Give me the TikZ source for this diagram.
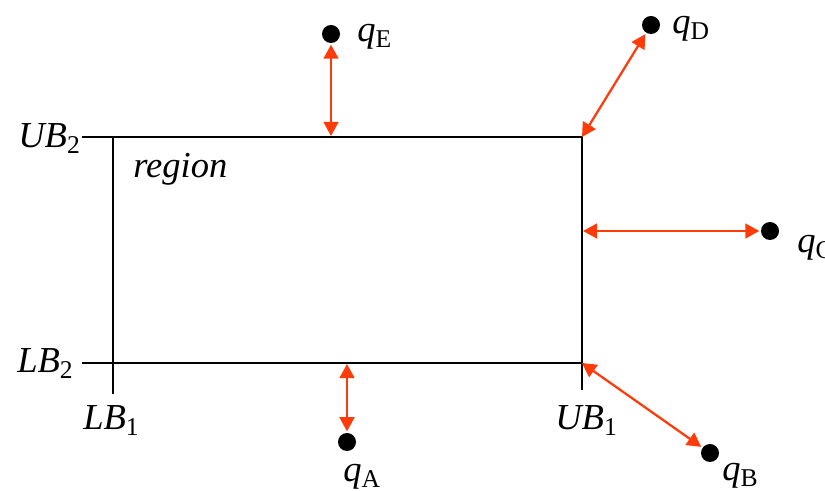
\documentclass[tikz,border=0pt]{standalone}
\usepackage{fontspec}
\setmainfont{Liberation Serif}
\usepackage{xcolor}
\usetikzlibrary{arrows.meta}
\definecolor{arrowred}{HTML}{FF3B0A}

\begin{document}
\begin{tikzpicture}[
x=0.025cm, y=-0.025cm,
every node/.style={font=\fontsize{26}{30}\selectfont, inner sep=0pt},
dotnode/.style={circle, fill=black, minimum size=0.45cm, outer sep=1.2pt},
labelnode/.style={anchor=base west},
boxline/.style={line width=1.6pt, black},
tickline/.style={line width=1.9pt, black},
arrownode/.style={{Triangle[length=10pt,width=10.5pt]}-{Triangle[length=10pt,width=10.5pt]}, line width=1.6pt, arrowred}
]
\useasboundingbox (0,0) rectangle (825,491);

% region box and its bounds
\coordinate (tl) at (113,137);
\coordinate (tr) at (582,137);
\coordinate (bl) at (113,363);
\coordinate (br) at (582,363);
\draw[boxline] (tl) rectangle (br);
\draw[tickline] (82,137) -- (tl);
\draw[tickline] (82,363) -- (bl);
\draw[tickline] (bl) -- (113,394);
\draw[tickline] (br) -- (582,390);

\node[labelnode] (ub2) at (18,148) {\textit{UB}\textsubscript{2}};
\node[labelnode] (lb2) at (17,373) {\textit{LB}\textsubscript{2}};
\node[labelnode] (lb1) at (83,430) {\textit{LB}\textsubscript{1}};
\node[labelnode] (ub1) at (555,430) {\textit{UB}\textsubscript{1}};
\node[labelnode] (region) at (133,178) {\textit{region}};

% query points
\node[dotnode] (qa) at (347,442) {};
\node[dotnode] (qb) at (710,453) {};
\node[dotnode] (qc) at (770,231) {};
\node[dotnode] (qd) at (651,25) {};
\node[dotnode] (qe) at (331,34) {};

\node[labelnode] (lqa) at (343,482) {\textit{q}\textsubscript{A}};
\node[labelnode] (lqb) at (722,481) {\textit{q}\textsubscript{B}};
\node[labelnode] (lqc) at (797,253) {\textit{q}\textsubscript{C}};
\node[labelnode] (lqd) at (672,34) {\textit{q}\textsubscript{D}};
\node[labelnode] (lqe) at (357,42) {\textit{q}\textsubscript{E}};

% distances
\coordinate (top) at (331,136);
\coordinate (bot) at (347,364);
\coordinate (rgt) at (583,231);
\draw[arrownode] (top) -- (qe);
\draw[arrownode] (bot) -- (qa);
\draw[arrownode] (rgt) -- (qc);
\draw[arrownode] (tr) -- (qd);
\draw[arrownode] (br) -- (qb);

\end{tikzpicture}
\end{document}
